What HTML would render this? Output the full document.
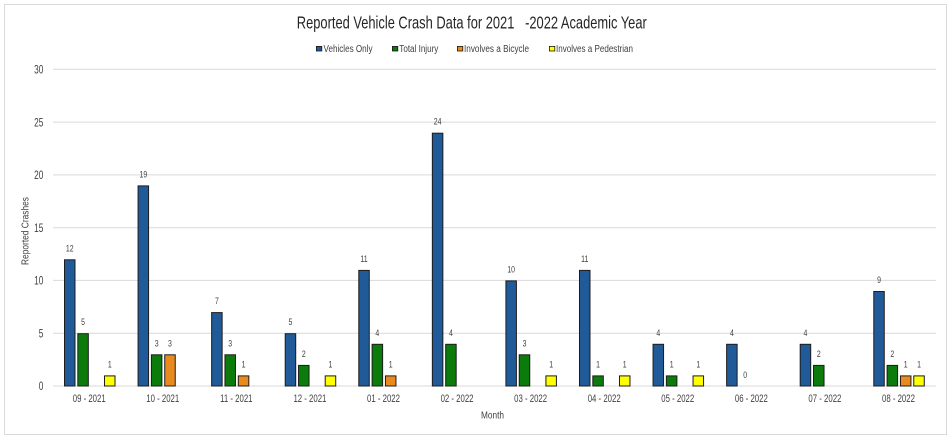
<!DOCTYPE html>
<html><head><meta charset="utf-8"><style>
html,body{margin:0;padding:0;background:#fff;}
svg{display:block;}
text{font-family:"Liberation Sans",Arial,sans-serif;fill:#404040;}
.t{fill:#262626;}
</style></head><body>
<svg width="951" height="440" viewBox="0 0 951 440" xmlns="http://www.w3.org/2000/svg">
<rect x="0" y="0" width="951" height="440" fill="#fff"/>
<rect x="4.5" y="4.5" width="942" height="430" fill="#fff" stroke="#d9d9d9" stroke-width="1"/>
<!-- title -->
<text class="t" x="471.8" y="28.3" font-size="17.5" text-anchor="middle" textLength="350" lengthAdjust="spacingAndGlyphs" style="white-space:pre">Reported Vehicle Crash Data for 2021   -2022 Academic Year</text>
<!-- legend -->
<g stroke="#1a1a1a" stroke-width="0.8">
<rect x="316.4" y="46.4" width="5.4" height="4.6" fill="#215a98"/>
<rect x="392.4" y="46.4" width="5.4" height="4.6" fill="#0b7b0b"/>
<rect x="457.4" y="46.4" width="5.4" height="4.6" fill="#e98a1f"/>
<rect x="549.4" y="46.4" width="5.4" height="4.6" fill="#ffff00"/>
</g>
<g font-size="10">
<text x="323.5" y="51.8" textLength="49" lengthAdjust="spacingAndGlyphs">Vehicles Only</text>
<text x="399.3" y="51.8" textLength="39" lengthAdjust="spacingAndGlyphs">Total Injury</text>
<text x="464" y="51.8" textLength="65" lengthAdjust="spacingAndGlyphs">Involves a Bicycle</text>
<text x="556" y="51.8" textLength="77" lengthAdjust="spacingAndGlyphs">Involves a Pedestrian</text>
</g>
<!-- gridlines -->
<g stroke="#d9d9d9" stroke-width="1">
<line x1="53" x2="936" y1="69.3" y2="69.3"/>
<line x1="53" x2="936" y1="122.1" y2="122.1"/>
<line x1="53" x2="936" y1="174.9" y2="174.9"/>
<line x1="53" x2="936" y1="227.7" y2="227.7"/>
<line x1="53" x2="936" y1="280.4" y2="280.4"/>
<line x1="53" x2="936" y1="333.2" y2="333.2"/>
<line x1="53" x2="936" y1="386" y2="386"/>
</g>
<!-- y ticks -->
<g font-size="11.5" text-anchor="end">
<text transform="translate(43.3,73.5) scale(0.72,1)">30</text>
<text transform="translate(43.3,126.3) scale(0.72,1)">25</text>
<text transform="translate(43.3,179.1) scale(0.72,1)">20</text>
<text transform="translate(43.3,231.9) scale(0.72,1)">15</text>
<text transform="translate(43.3,284.6) scale(0.72,1)">10</text>
<text transform="translate(43.3,337.4) scale(0.72,1)">5</text>
<text transform="translate(43.3,390.2) scale(0.72,1)">0</text>
</g>
<!-- axis titles -->
<text transform="translate(28.3,231) rotate(-90)" font-size="10.5" text-anchor="middle" textLength="68" lengthAdjust="spacingAndGlyphs">Reported Crashes</text>
<text x="492.5" y="418.5" font-size="10.5" text-anchor="middle" textLength="23" lengthAdjust="spacingAndGlyphs">Month</text>
<!-- bars -->
<g stroke="#1c1c1c" stroke-width="1">
<!-- blue -->
<g fill="#215a98">
<rect x="64.5" y="259.8" width="10.5" height="126.2"/>
<rect x="138.07" y="185.9" width="10.5" height="200.1"/>
<rect x="211.64" y="312.6" width="10.5" height="73.4"/>
<rect x="285.21" y="333.7" width="10.5" height="52.3"/>
<rect x="358.78" y="270.4" width="10.5" height="115.6"/>
<rect x="432.35" y="133.2" width="10.5" height="252.8"/>
<rect x="505.92" y="280.9" width="10.5" height="105.1"/>
<rect x="579.49" y="270.4" width="10.5" height="115.6"/>
<rect x="653.06" y="344.3" width="10.5" height="41.7"/>
<rect x="726.63" y="344.3" width="10.5" height="41.7"/>
<rect x="800.2" y="344.3" width="10.5" height="41.7"/>
<rect x="873.77" y="291.5" width="10.5" height="94.5"/>
</g>
<!-- green -->
<g fill="#0b7b0b">
<rect x="77.83" y="333.7" width="10.5" height="52.3"/>
<rect x="151.4" y="354.8" width="10.5" height="31.2"/>
<rect x="224.97" y="354.8" width="10.5" height="31.2"/>
<rect x="298.54" y="365.4" width="10.5" height="20.6"/>
<rect x="372.11" y="344.3" width="10.5" height="41.7"/>
<rect x="445.68" y="344.3" width="10.5" height="41.7"/>
<rect x="519.25" y="354.8" width="10.5" height="31.2"/>
<rect x="592.82" y="375.9" width="10.5" height="10.1"/>
<rect x="666.39" y="375.9" width="10.5" height="10.1"/>
<rect x="813.53" y="365.4" width="10.5" height="20.6"/>
<rect x="887.1" y="365.4" width="10.5" height="20.6"/>
</g>
<!-- orange -->
<g fill="#e98a1f">
<rect x="164.74" y="354.8" width="10.5" height="31.2"/>
<rect x="238.31" y="375.9" width="10.5" height="10.1"/>
<rect x="385.45" y="375.9" width="10.5" height="10.1"/>
<rect x="900.44" y="375.9" width="10.5" height="10.1"/>
</g>
<!-- yellow -->
<g fill="#ffff00">
<rect x="104.5" y="375.9" width="10.5" height="10.1"/>
<rect x="325.21" y="375.9" width="10.5" height="10.1"/>
<rect x="545.92" y="375.9" width="10.5" height="10.1"/>
<rect x="619.49" y="375.9" width="10.5" height="10.1"/>
<rect x="693.06" y="375.9" width="10.5" height="10.1"/>
<rect x="913.77" y="375.9" width="10.5" height="10.1"/>
</g>
</g>
<!-- value labels -->
<g font-size="9.5" text-anchor="middle">
<text transform="translate(69.75,251.3) scale(0.73,1)">12</text>
<text transform="translate(83.08,325.2) scale(0.73,1)">5</text>
<text transform="translate(109.75,367.4) scale(0.73,1)">1</text>
<text transform="translate(143.32,177.4) scale(0.73,1)">19</text>
<text transform="translate(156.65,346.3) scale(0.73,1)">3</text>
<text transform="translate(169.99,346.3) scale(0.73,1)">3</text>
<text transform="translate(216.89,304.1) scale(0.73,1)">7</text>
<text transform="translate(230.22,346.3) scale(0.73,1)">3</text>
<text transform="translate(243.56,367.4) scale(0.73,1)">1</text>
<text transform="translate(290.46,325.2) scale(0.73,1)">5</text>
<text transform="translate(303.79,356.9) scale(0.73,1)">2</text>
<text transform="translate(330.46,367.4) scale(0.73,1)">1</text>
<text transform="translate(364.03,261.9) scale(0.73,1)">11</text>
<text transform="translate(377.36,335.8) scale(0.73,1)">4</text>
<text transform="translate(390.7,367.4) scale(0.73,1)">1</text>
<text transform="translate(437.6,124.7) scale(0.73,1)">24</text>
<text transform="translate(450.93,335.8) scale(0.73,1)">4</text>
<text transform="translate(511.17,272.4) scale(0.73,1)">10</text>
<text transform="translate(524.5,346.3) scale(0.73,1)">3</text>
<text transform="translate(551.17,367.4) scale(0.73,1)">1</text>
<text transform="translate(584.74,261.9) scale(0.73,1)">11</text>
<text transform="translate(598.07,367.4) scale(0.73,1)">1</text>
<text transform="translate(624.74,367.4) scale(0.73,1)">1</text>
<text transform="translate(658.31,335.8) scale(0.73,1)">4</text>
<text transform="translate(671.64,367.4) scale(0.73,1)">1</text>
<text transform="translate(698.31,367.4) scale(0.73,1)">1</text>
<text transform="translate(731.88,335.8) scale(0.73,1)">4</text>
<text transform="translate(745.21,378) scale(0.73,1)">0</text>
<text transform="translate(805.45,335.8) scale(0.73,1)">4</text>
<text transform="translate(818.78,356.9) scale(0.73,1)">2</text>
<text transform="translate(879.02,283) scale(0.73,1)">9</text>
<text transform="translate(892.35,356.9) scale(0.73,1)">2</text>
<text transform="translate(905.69,367.4) scale(0.73,1)">1</text>
<text transform="translate(919.02,367.4) scale(0.73,1)">1</text>
</g>
<!-- x labels -->
<g font-size="11" text-anchor="middle">
<text transform="translate(89.2,402) scale(0.71,1)">09 - 2021</text>
<text transform="translate(162.77,402) scale(0.71,1)">10 - 2021</text>
<text transform="translate(236.34,402) scale(0.71,1)">11 - 2021</text>
<text transform="translate(309.91,402) scale(0.71,1)">12 - 2021</text>
<text transform="translate(383.48,402) scale(0.71,1)">01 - 2022</text>
<text transform="translate(457.05,402) scale(0.71,1)">02 - 2022</text>
<text transform="translate(530.62,402) scale(0.71,1)">03 - 2022</text>
<text transform="translate(604.19,402) scale(0.71,1)">04 - 2022</text>
<text transform="translate(677.76,402) scale(0.71,1)">05 - 2022</text>
<text transform="translate(751.33,402) scale(0.71,1)">06 - 2022</text>
<text transform="translate(824.9,402) scale(0.71,1)">07 - 2022</text>
<text transform="translate(898.47,402) scale(0.71,1)">08 - 2022</text>
</g>
</svg>
</body></html>
